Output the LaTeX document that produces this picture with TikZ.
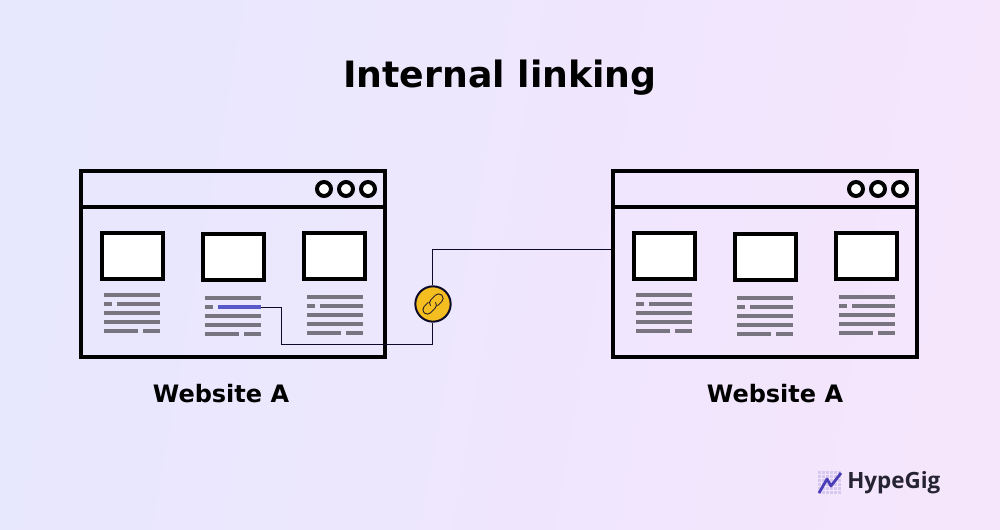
\documentclass[tikz,border=0pt]{standalone}
\usepackage{fontspec}
\setmainfont{DejaVu Sans}
\newfontfamily\logofont{Open Sans}
\definecolor{bgleft}{RGB}{231,231,254}
\definecolor{bgright}{RGB}{245,230,252}
\definecolor{barcolor}{RGB}{120,117,128}
\definecolor{linkblue}{RGB}{88,88,200}
\definecolor{chainyellow}{RGB}{245,190,32}
\definecolor{linkdark}{RGB}{12,10,40}
\definecolor{logopurple}{RGB}{74,62,184}
\definecolor{logogrid}{RGB}{214,200,240}
\definecolor{logotext}{RGB}{38,36,50}
\tikzset{
  window/.style={draw=black, line width=3pt, minimum width=228pt, minimum height=139.5pt, inner sep=0pt},
  thumb/.style={draw=black, fill=white, line width=3pt, minimum width=45.75pt, minimum height=34.5pt, inner sep=0pt},
  dot/.style={circle, draw=black, fill=white, line width=3pt, minimum size=10.5pt, inner sep=0pt},
  bar/.style={fill=barcolor},
  wire/.style={draw=linkdark, line width=.7pt},
  chain/.style={circle, draw=linkdark, fill=chainyellow, line width=1.5pt, minimum size=26.5pt, inner sep=0pt},
  heading/.style={font=\bfseries\fontsize{27.2}{30}\selectfont, inner sep=0pt},
  caption/.style={font=\bfseries\fontsize{18}{20}\selectfont, inner sep=0pt}
}
\begin{document}
\begin{tikzpicture}[x=.75pt, y=-.75pt]
\useasboundingbox (0,0) rectangle (1000,529);
\fill[left color=bgleft, right color=bgright, shading angle=80] (0,0) rectangle (1000,529);

\node[heading] (title) at (500,77.5) {Internal linking};

% the two browser windows
\foreach \win/\dx in {A/0, B/532} {
  \begin{scope}[shift={(\dx,0)}]
    \node[window] (win\win) at (233,264) {};
    \draw[line width=3pt] (81,207) -- (385,207);
    \foreach \n/\cx in {1/324, 2/346, 3/368}
      \node[dot] (dot\win\n) at (\cx,189) {};
    \foreach \n/\bx/\by/\tx/\ty in {1/132.5/256/104/295, 2/233.5/257/205/298, 3/334.5/256/307/297} {
      \node[thumb] (thumb\win\n) at (\bx,\by) {};
      \begin{scope}[shift={(\tx,\ty)}]
        \fill[bar] (0,-2) rectangle (56,2);
        \fill[bar] (0,7) rectangle (8,11);
        \fill[bar] (13,7) rectangle (56,11);
        \fill[bar] (0,16) rectangle (56,20);
        \fill[bar] (0,25) rectangle (56,29);
        \fill[bar] (0,34) rectangle (34,38);
        \fill[bar] (39,34) rectangle (56,38);
      \end{scope}
    }
  \end{scope}
}

% highlighted anchor text and its link
\node[fill=linkblue, minimum width=32.25pt, minimum height=3pt, inner sep=0pt] (anchor) at (239.5,307) {};
\node[chain] (chain) at (433,304) {};
\coordinate (c1) at (281.5,307);
\coordinate (c2) at (281.5,344);
\coordinate (c3) at (432,344);
\coordinate (c4) at (432,249.5);
\coordinate (c5) at (611,249.5);
\draw[wire] (anchor.east) -- (c1) -- (c2) -- (c3) -- (c3 |- chain.south);
\draw[wire] (c4 |- chain.north) -- (c4) -- (c5);

% chain icon
\begin{scope}[shift={(chain.center)}, rotate=45, draw=linkdark, line width=.6pt, line cap=round]
  \draw (-2,-4.5) -- (-8,-4.5) arc (270:90:4.5) -- (-1.5,4.5) arc (90:10:4.5);
  \draw (2,4.5) -- (8,4.5) arc (90:-90:4.5) -- (1.5,-4.5) arc (270:190:4.5);
\end{scope}

\node[caption] (labelA) at (221,394) {Website A};
\node[caption] (labelB) at (775,394) {Website A};

% logo
\foreach \i in {0,...,5}
  \foreach \j in {0,...,5}
    \fill[logogrid] (818+4*\i,471+4*\j) rectangle ++(3.4,3.4);
\draw[logopurple, line width=2.1pt, line join=round] (819,493) -- (827,479) -- (831,486) -- (841,473);
\node[font=\logofont\bfseries\fontsize{16.8}{20}\selectfont, text=logotext, anchor=west, inner sep=0pt] (logo) at (847,483) {HypeGig};
\end{tikzpicture}
\end{document}
